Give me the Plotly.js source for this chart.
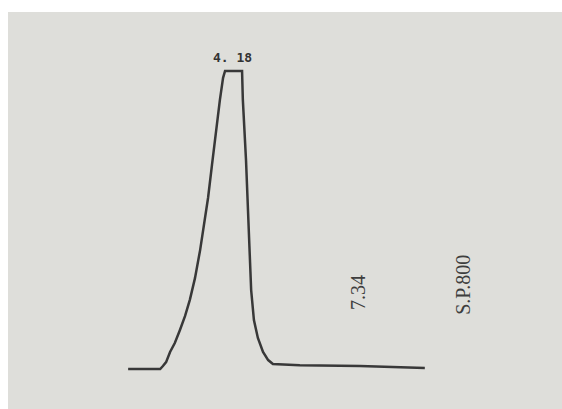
<!DOCTYPE html>
<html>
<head>
<meta charset="utf-8">
<script src="https://cdn.plot.ly/plotly-3.0.1.min.js"></script>
<style>html,body{margin:0;padding:0;background:#fff;}#chart{width:562px;height:409px;}</style>
</head>
<body>
<div id="chart"></div>
<script>
// Retention time (min) and detector signal (relative units, peak clipped at 100)
const timeMin = [1.53, 2.34, 2.41, 2.49, 2.59, 2.71, 2.84, 2.97, 3.09, 3.22, 3.35, 3.45, 3.55, 3.65, 3.75, 3.85, 3.93, 3.98, 4.41, 4.43, 4.51, 4.59, 4.64, 4.71, 4.81, 4.94, 5.07, 5.19, 5.87, 7.39, 8.40, 9.03];
const signal  = [0, 0, 1.0, 2.3, 5.7, 8.7, 13.1, 17.8, 23.2, 30.5, 39.9, 48.3, 57.4, 68.5, 80.2, 90.3, 97.7, 100, 100, 90.3, 70.1, 46.6, 26.5, 16.4, 10.4, 5.7, 3.0, 1.7, 1.3, 1.0, 0.7, 0.3];
const peakLabels = ["4.18", "7.34"];
const peakTimes = [4.18, 7.34];
const sampleLabel = "S.P.800";

const trace = {
  x: timeMin, y: signal, type: 'scatter', mode: 'lines',
  line: {color: '#383838', width: 2.5, shape: 'linear'},
  hoverinfo: 'skip'
};

const layout = {
  width: 562, height: 409,
  margin: {l: 0, r: 0, t: 0, b: 0},
  paper_bgcolor: '#ffffff',
  plot_bgcolor: 'rgba(0,0,0,0)',
  showlegend: false,
  xaxis: {range: [-1.709, 12.498], visible: false, fixedrange: true},
  yaxis: {range: [-13.42, 123.83], visible: false, fixedrange: true},
  shapes: [{
    type: 'rect', xref: 'paper', yref: 'paper',
    x0: 8/562, x1: 1, y0: 0, y1: (409-12)/409,
    fillcolor: '#dededa', line: {width: 0}, layer: 'below'
  }],
  annotations: [
    {x: peakTimes[0], y: 104.4, xref: 'x', yref: 'y', text: '<b>4. 18</b>', showarrow: false,
     font: {family: 'DejaVu Sans Mono', size: 13, color: '#333333'}},
    {x: peakTimes[1], y: 25.8, xref: 'x', yref: 'y', text: peakLabels[1], showarrow: false, textangle: -90,
     font: {family: 'Liberation Serif', size: 20, color: '#3e3e3e'}},
    {x: 9.99, y: 28.2, xref: 'x', yref: 'y', text: sampleLabel, showarrow: false, textangle: -90,
     font: {family: 'Liberation Serif', size: 20, color: '#3e3e3e'}}
  ]
};

Plotly.newPlot('chart', [trace], layout, {staticPlot: true, displayModeBar: false});
</script>
</body>
</html>
